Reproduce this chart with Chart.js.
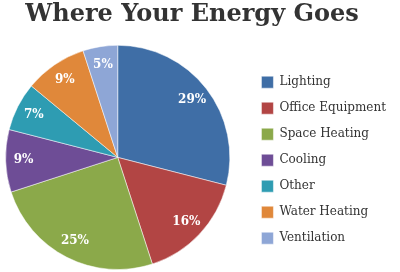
<!DOCTYPE html>
<html>
<head>
    <title>Where Your Energy Goes</title>
    <script src="https://cdn.jsdelivr.net/npm/chart.js@4.4.1/dist/chart.umd.min.js"></script>
    <style>
        body { margin: 0; background: #fff; }
        .chart-container { width: 400px; height: 272px; }
    </style>
</head>
<body>
    <div class="chart-container">
        <canvas id="energyChart"></canvas>
    </div>

    <script>
        const categories = ['Lighting', 'Office Equipment', 'Space Heating', 'Cooling', 'Other', 'Water Heating', 'Ventilation'];
        const shares = [29, 16, 25, 9, 7, 9, 5];
        const sliceColors = ['#3f6ea6', '#b24544', '#8ba94a', '#6e4d96', '#2e9cb2', '#e0883a', '#8ea6d6'];

        const serif = 'DejaVu Serif, serif';

        // white percentage labels placed out towards the rim of each slice
        const sliceLabels = {
            id: 'sliceLabels',
            afterDatasetsDraw(chart) {
                const ctx = chart.ctx;
                const arcs = chart.getDatasetMeta(0).data;
                ctx.save();
                ctx.fillStyle = '#fff';
                ctx.font = 'bold 12px ' + serif;
                ctx.textAlign = 'center';
                ctx.textBaseline = 'middle';
                arcs.forEach((arc, i) => {
                    const p = arc.getProps(['x', 'y', 'startAngle', 'endAngle', 'outerRadius']);
                    const mid = (p.startAngle + p.endAngle) / 2;
                    const r = p.outerRadius * 0.84;
                    ctx.fillText(shares[i] + '%', p.x + Math.cos(mid) * r, p.y + Math.sin(mid) * r);
                });
                ctx.restore();
            }
        };

        // push the legend a bit right of its box so the pie keeps its place
        const nudgeLegend = {
            id: 'nudgeLegend',
            afterLayout(chart) {
                chart.legend.left += 12;
                chart.legend.right += 12;
            }
        };

        new Chart(document.getElementById('energyChart'), {
            type: 'pie',
            data: {
                labels: categories,
                datasets: [{
                    data: shares,
                    backgroundColor: sliceColors,
                    borderColor: 'rgba(255,255,255,0.5)',
                    borderWidth: 1
                }]
            },
            options: {
                responsive: true,
                maintainAspectRatio: false,
                animation: false,
                layout: { padding: { left: 0, right: 16, bottom: 2 } },
                plugins: {
                    title: {
                        display: true,
                        text: 'Where Your Energy Goes',
                        color: '#333',
                        font: { family: serif, size: 24, weight: 'bold' },
                        padding: { top: 0, bottom: 16 }
                    },
                    legend: {
                        position: 'right',
                        title: {
                            display: true,
                            text: '',
                            font: { family: serif, size: 12 },
                            padding: 18
                        },
                        labels: {
                            color: '#333',
                            font: { family: serif, size: 12 },
                            boxWidth: 12,
                            boxHeight: 12,
                            padding: 14
                        }
                    },
                    tooltip: { enabled: false }
                }
            },
            plugins: [sliceLabels, nudgeLegend]
        });
    </script>
</body>
</html>
